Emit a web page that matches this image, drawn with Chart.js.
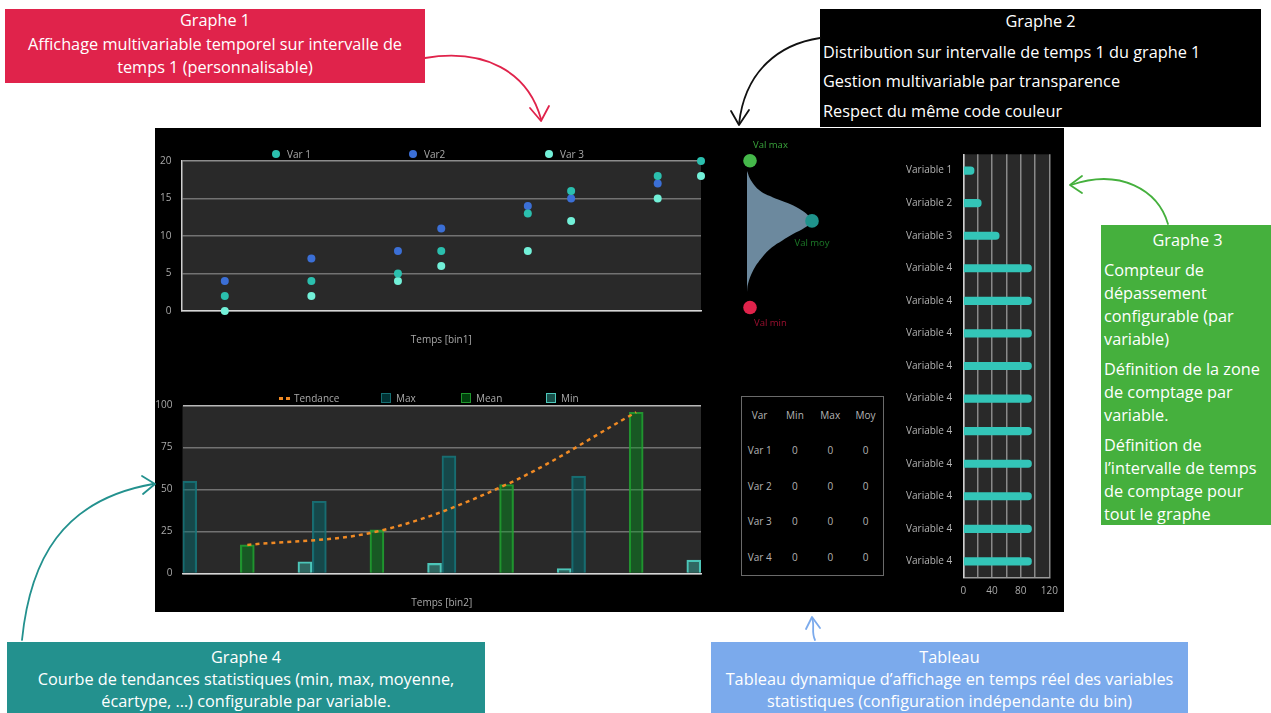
<!DOCTYPE html>
<html><head><meta charset="utf-8">
<script src="https://cdn.jsdelivr.net/npm/chart.js@4.4.1/dist/chart.umd.min.js"></script>
<style>
html,body{margin:0;padding:0;background:#fff;}
#root{position:relative;width:1271px;height:713px;overflow:hidden;font-family:'Open Sans',Lato,sans-serif;background:#fff;}
.box{position:absolute;color:#fff;font-size:16.3px;box-sizing:border-box;white-space:nowrap;}
.box .c{text-align:center;}
#panel{position:absolute;left:155px;top:128px;width:909px;height:484px;background:#000;}
canvas.cv{position:absolute;}
.lg{position:absolute;font-family:'Open Sans',sans-serif;font-size:10px;color:#a9a9a9;white-space:nowrap;line-height:12px;}
.lg .dot{position:absolute;width:8px;height:8px;border-radius:50%;top:2px;}
.lg .sq{position:absolute;width:9px;height:9px;top:1px;box-sizing:border-box;border:1.5px solid;}
#tbl{position:absolute;left:741px;top:396px;width:143px;height:180px;border:1.5px solid #6a6a6a;box-sizing:border-box;display:grid;grid-template-columns:repeat(4,35.3px);grid-template-rows:repeat(5,35.5px);font-family:'Open Sans',sans-serif;font-size:10px;color:#b4b4b4;}
#tbl div{display:flex;align-items:center;justify-content:center;}
svg#arrows{position:absolute;left:0;top:0;}
</style>
</head><body>
<div id="root">
  <div id="panel"></div>
  <canvas id="c1" class="cv" width="555" height="225" style="left:155px;top:128px"></canvas>
  <canvas id="c2" class="cv" width="160" height="200" style="left:735px;top:135px"></canvas>
  <canvas id="c3" class="cv" width="170" height="460" style="left:895px;top:145px"></canvas>
  <canvas id="c4" class="cv" width="555" height="222" style="left:155px;top:390px"></canvas>
  <div id="lg1"></div>
  <div id="lg4"></div>
  <div id="tbl"></div>

  <div class="box" style="left:5px;top:9px;width:420px;height:74px;background:#E0234B;line-height:23.5px;">
    <div class="c">Graphe 1</div>
    <div class="c">Affichage multivariable temporel sur intervalle de<br>temps 1 (personnalisable)</div>
  </div>
  <div class="box" style="left:820px;top:9px;width:441px;height:118px;background:#000;">
    <div class="c" style="line-height:24px;">Graphe 2</div>
    <div style="margin-top:4.5px;line-height:29.5px;padding-left:3px;">Distribution sur intervalle de temps 1 du graphe 1<br>Gestion multivariable par transparence<br>Respect du même code couleur</div>
  </div>
  <div class="box" style="left:1101px;top:225px;width:170px;height:300px;background:#45B03D;line-height:23px;padding-left:3px;overflow:hidden;">
    <div class="c" style="margin-top:4px;">Graphe 3</div>
    <div style="margin-top:7px;">Compteur de<br>dépassement<br>configurable (par<br>variable)</div>
    <div style="margin-top:7px;">Définition de la zone<br>de comptage par<br>variable.</div>
    <div style="margin-top:7px;">Définition de<br>l’intervalle de temps<br>de comptage pour<br>tout le graphe</div>
  </div>
  <div class="box" style="left:7px;top:642px;width:478px;height:71px;background:#23918E;line-height:22px;padding-top:4px;">
    <div class="c">Graphe 4</div>
    <div class="c">Courbe de tendances statistiques (min, max, moyenne,<br>écartype, …) configurable par variable.</div>
  </div>
  <div class="box" style="left:711px;top:642px;width:477px;height:71px;background:#7BAAEC;line-height:22px;padding-top:4px;">
    <div class="c">Tableau</div>
    <div class="c">Tableau dynamique d’affichage en temps réel des variables<br>statistiques (configuration indépendante du bin)</div>
  </div>

  <svg id="arrows" width="1271" height="713" fill="none" stroke-linecap="round" stroke-linejoin="round">
    <path d="M425,58 C485,48 528,72 541,119" stroke="#E0234B" stroke-width="1.8"/>
    <path d="M530,108 L541,121 L549,106" stroke="#E0234B" stroke-width="1.8"/>
    <path d="M820,38 C780,44 745,70 739,124" stroke="#111" stroke-width="1.8"/>
    <path d="M731,111 L739,125 L749,110" stroke="#111" stroke-width="1.8"/>
    <path d="M1168,224 C1158,190 1120,168 1071,185" stroke="#45B03D" stroke-width="1.8"/>
    <path d="M1082,176 L1070,185 L1082,193" stroke="#45B03D" stroke-width="1.8"/>
    <path d="M22,640 C30,560 62,500 153,484" stroke="#23918E" stroke-width="1.8"/>
    <path d="M142,476 L155,484 L143,494" stroke="#23918E" stroke-width="1.8"/>
    <path d="M815,640 C811,632 815,625 812,618" stroke="#7BAAEC" stroke-width="1.8"/>
    <path d="M806,629 L812,617 L820,628" stroke="#7BAAEC" stroke-width="1.8"/>
  </svg>
</div>
<script>
// ---------- Graphe 1 : points temporels ----------
const g1Series = ['Var 1', 'Var2', 'Var 3'];
const g1Time = [1, 3, 5, 6, 8, 9, 11, 12];
const var1 = [2, 4, 5, 8, 13, 16, 18, 20];
const var2 = [4, 7, 8, 11, 14, 15, 17, null];
const var3 = [0, 2, 4, 6, 8, 12, 15, 18];
const g1Ticks = [0, 5, 10, 15, 20];

// ---------- Graphe 2 : distribution ----------
const g2Values  = [18.6, 17.3, 15.9, 15.0, 14.1, 13.2, 12.3, 11.8, 10.9, 10.0, 9.1, 8.2, 6.8, 5.0, 3.2, 2.1];
const g2Density = [0, 0.4, 1.3, 2.6, 4.3, 5.5, 6.3, 6.6, 5.8, 4.6, 3.5, 2.5, 1.5, 0.6, 0.1, 0];
const g2Markers = ['Val max', 'Val moy', 'Val min'];
const g2MarkerValues  = [20, 11.8, 0];
const g2MarkerDensity = [0.3, 6.5, 0.3];

// ---------- Graphe 3 : compteur de dépassement ----------
const g3Labels = ['Variable 1', 'Variable 2', 'Variable 3', 'Variable 4', 'Variable 4', 'Variable 4', 'Variable 4',
                  'Variable 4', 'Variable 4', 'Variable 4', 'Variable 4', 'Variable 4', 'Variable 4'];
const g3Counts = [15, 25, 50, 95, 95, 95, 95, 95, 95, 95, 95, 95, 95];
const g3Ticks = [0, 40, 80, 120];

// ---------- Graphe 4 : tendances statistiques ----------
const g4Series = ['Tendance', 'Max', 'Mean', 'Min'];
const g4MaxTime  = [0.5, 9.5, 18.5, 27.5];
const g4Max      = [55, 43, 70, 58];
const g4MeanTime = [4.5, 13.5, 22.5, 31.5];
const g4Mean     = [17, 26, 53, 96];
const g4Trend    = [17, 25, 53, 96];
const g4MinTime  = [8.5, 17.5, 26.5, 35.5];
const g4Min      = [7, 6, 3, 8];
const g4Ticks = [0, 25, 50, 75, 100];

// ---------- Tableau ----------
const tblHeaders = ['Var', 'Min', 'Max', 'Moy'];
const tblVars = ['Var 1', 'Var 2', 'Var 3', 'Var 4'];
const tblMin = [0, 0, 0, 0];
const tblMax = [0, 0, 0, 0];
const tblMoy = [0, 0, 0, 0];

// =====================================================
Chart.defaults.font.family = "'Open Sans', sans-serif";
Chart.defaults.font.size = 10;
Chart.defaults.color = '#aaaaaa';
Chart.defaults.animation = false;
Chart.defaults.responsive = false;
Chart.defaults.devicePixelRatio = 1;
Chart.defaults.plugins.legend.display = false;
Chart.defaults.plugins.tooltip.enabled = false;

const plotBg = {
  id: 'plotBg',
  beforeDraw(ch) {
    const {ctx, chartArea: a} = ch;
    ctx.save();
    ctx.fillStyle = '#292929';
    ctx.fillRect(a.left, a.top, a.right - a.left, a.bottom - a.top);
    ctx.restore();
  }
};
const tickList = (arr) => (scale) => { scale.ticks = arr.map(v => ({value: v})); };
const fixWidth = (w) => (s) => { s.width = w; s.paddingTop = 0; s.paddingBottom = 0; };
const fixHeight = (h) => (s) => { s.height = h; };

// ----- Graphe 1
const g1Colors = ['#2bbfae', '#3b6fd6', '#72f0d8'];
const g1Data = [var1, var2, var3];
new Chart(document.getElementById('c1'), {
  type: 'scatter',
  data: {
    datasets: g1Series.map((name, i) => ({
      label: name,
      data: g1Time.map((t, j) => ({x: t, y: g1Data[i][j]})).filter(p => p.y !== null),
      backgroundColor: g1Colors[i],
      borderWidth: 0,
      pointRadius: 4,
      clip: false
    }))
  },
  options: {
    layout: {padding: {top: 33, right: 9, left: 0, bottom: 0}},
    scales: {
      x: {
        type: 'linear', min: 0, max: 12,
        ticks: {display: false},
        grid: {display: false},
        border: {display: true, color: '#d6d6d6', width: 1.5},
        title: {display: true, text: 'Temps [bin1]', color: '#a9a9a9', font: {size: 10}, padding: {top: 23, bottom: 7}},
        afterFit: fixHeight(42)
      },
      y: {
        min: 0, max: 20,
        afterBuildTicks: tickList(g1Ticks),
        ticks: {color: '#a9a9a9', padding: 10},
        grid: {color: (c) => c.tick && c.tick.value === 20 ? '#8c8c8c' : '#727272', lineWidth: 1.5, drawTicks: false},
        border: {color: '#cfcfcf', width: 1.5},
        afterFit: fixWidth(26.5)
      }
    }
  },
  plugins: [plotBg]
});

// legend 1 (HTML)
(function () {
  const lg = document.getElementById('lg1');
  const lefts = [272, 409, 545];
  g1Series.forEach((name, i) => {
    const d = document.createElement('div');
    d.className = 'lg';
    d.style.left = lefts[i] + 'px';
    d.style.top = '148px';
    d.innerHTML = '<span class="dot" style="left:0;background:' + g1Colors[i] + '"></span><span style="margin-left:15px">' + name + '</span>';
    lg.appendChild(d);
  });
})();

// ----- Graphe 2
const g2MarkerColors = ['#45b84a', '#1f938c', '#e0234b'];
const g2LabelColors = ['#3aa53c', '#1c7a28', '#9c1030'];
const g2Labels = {
  id: 'g2Labels',
  afterDatasetsDraw(ch) {
    const meta = ch.getDatasetMeta(0);
    const ctx = ch.ctx;
    const offs = [[3, -15, 'left'], [0, 22.5, 'center'], [4, 15.5, 'left']];
    ctx.save();
    ctx.font = "9.5px 'Open Sans', sans-serif";
    ctx.textBaseline = 'middle';
    meta.data.forEach((pt, i) => {
      ctx.fillStyle = g2LabelColors[i];
      ctx.textAlign = offs[i][2];
      ctx.fillText(g2Markers[i], pt.x + offs[i][0], pt.y + offs[i][1]);
    });
    ctx.restore();
  }
};
new Chart(document.getElementById('c2'), {
  type: 'line',
  data: {
    datasets: [
      {
        label: 'Marqueurs',
        data: g2Markers.map((m, i) => ({x: g2MarkerDensity[i], y: g2MarkerValues[i]})),
        showLine: false,
        pointRadius: 6.8,
        pointBackgroundColor: g2MarkerColors,
        pointBorderWidth: 0,
        clip: false
      },
      {
        label: 'Distribution',
        data: g2Values.map((v, i) => ({x: g2Density[i], y: v})),
        fill: 'origin',
        backgroundColor: 'rgb(108,137,158)',
        borderWidth: 0,
        borderColor: 'rgba(0,0,0,0)',
        pointRadius: 0,
        tension: 0.4,
        clip: false
      }
    ]
  },
  options: {
    indexAxis: 'y',
    layout: {padding: {left: 12, right: 48, top: 25.7, bottom: 27.5}},
    scales: {
      x: {type: 'linear', min: 0, max: 10, display: false},
      y: {type: 'linear', min: 0, max: 20, display: false}
    }
  },
  plugins: [g2Labels]
});

// ----- Graphe 3
new Chart(document.getElementById('c3'), {
  type: 'bar',
  data: {
    labels: g3Labels,
    datasets: [{
      label: 'Dépassements',
      data: g3Counts,
      backgroundColor: '#33c5b8',
      barThickness: 7.5,
      borderRadius: 4,
      borderWidth: 0
    }]
  },
  options: {
    indexAxis: 'y',
    layout: {padding: {top: 9.3, right: 15, left: 0, bottom: 0}},
    scales: {
      x: {
        type: 'linear', min: 0, max: 120,
        ticks: {stepSize: 20, autoSkip: false, maxRotation: 0, padding: 7, color: '#a9a9a9',
                callback: (v) => g3Ticks.includes(v) ? String(v) : ''},
        grid: {color: '#8a8a8a', lineWidth: 1.5, drawTicks: false},
        border: {color: '#9a9a9a', width: 1.5},
        afterFit: fixHeight(27.3)
      },
      y: {
        ticks: {autoSkip: false, padding: 11, color: '#b3b3b3', font: {size: 10}},
        grid: {display: false, drawTicks: false},
        border: {color: '#d0d0d0', width: 1.5},
        afterFit: fixWidth(68.3)
      }
    }
  },
  plugins: [plotBg]
});

// ----- Graphe 4
const g4Styles = {
  Tendance: {border: '#f08a24'},
  Max: {bg: 'rgba(0,110,115,0.45)', border: 'rgba(25,120,125,0.85)'},
  Mean: {bg: 'rgba(0,160,30,0.40)', border: 'rgba(35,165,50,0.85)'},
  Min: {bg: 'rgba(60,200,185,0.40)', border: 'rgba(80,205,192,0.95)'}
};
const pairs = (xs, ys) => xs.map((x, i) => ({x: x, y: ys[i]}));
const barDs = (name, xs, ys) => ({
  type: 'bar', label: name, data: pairs(xs, ys),
  backgroundColor: g4Styles[name].bg, borderColor: g4Styles[name].border,
  borderWidth: 1.5, barThickness: 14, grouped: false
});
new Chart(document.getElementById('c4'), {
  type: 'bar',
  data: {
    datasets: [
      {
        type: 'line', label: 'Tendance', data: pairs(g4MeanTime, g4Trend),
        borderColor: g4Styles.Tendance.border, borderWidth: 2.5, borderDash: [4, 4],
        pointRadius: 0, tension: 0.35, fill: false
      },
      barDs('Max', g4MaxTime, g4Max),
      barDs('Mean', g4MeanTime, g4Mean),
      barDs('Min', g4MinTime, g4Min)
    ]
  },
  options: {
    layout: {padding: {top: 15.5, right: 9, left: 0, bottom: 0}},
    scales: {
      x: {
        type: 'linear', min: 0, max: 36, offset: false,
        ticks: {display: false},
        grid: {display: false, offset: false},
        border: {display: true, color: '#d6d6d6', width: 1.5},
        title: {display: true, text: 'Temps [bin2]', color: '#a9a9a9', font: {size: 10}, padding: {top: 23.5, bottom: 3}},
        afterFit: fixHeight(38.5)
      },
      y: {
        min: 0, max: 100,
        afterBuildTicks: tickList(g4Ticks),
        ticks: {color: '#a9a9a9', padding: 10},
        grid: {color: (c) => c.tick && c.tick.value === 100 ? '#b8b8b8' : '#727272', lineWidth: 1.5, drawTicks: false},
        border: {display: false},
        afterFit: fixWidth(27.5)
      }
    }
  },
  plugins: [plotBg]
});

// legend 4 (HTML)
(function () {
  const lg = document.getElementById('lg4');
  const lefts = [278, 381, 461, 546];
  g4Series.forEach((name, i) => {
    const d = document.createElement('div');
    d.className = 'lg';
    d.style.left = lefts[i] + 'px';
    d.style.top = '392px';
    let mark;
    if (name === 'Tendance') {
      mark = '<span style="position:absolute;left:1px;top:5px;width:4px;height:2.5px;background:#f08a24"></span>' +
             '<span style="position:absolute;left:8px;top:5px;width:4px;height:2.5px;background:#f08a24"></span>';
      d.innerHTML = mark + '<span style="margin-left:16px">' + name + '</span>';
    } else {
      const st = g4Styles[name];
      mark = '<span class="sq" style="left:0;width:10px;height:10px;background:' + st.bg + ';border-color:' + st.border + '"></span>';
      d.innerHTML = mark + '<span style="margin-left:15px">' + name + '</span>';
    }
    lg.appendChild(d);
  });
})();

// ----- Tableau
(function () {
  const t = document.getElementById('tbl');
  const cell = (txt) => { const d = document.createElement('div'); d.textContent = txt; t.appendChild(d); };
  tblHeaders.forEach(cell);
  tblVars.forEach((v, i) => { cell(v); cell(tblMin[i]); cell(tblMax[i]); cell(tblMoy[i]); });
})();
</script>
</body></html>
